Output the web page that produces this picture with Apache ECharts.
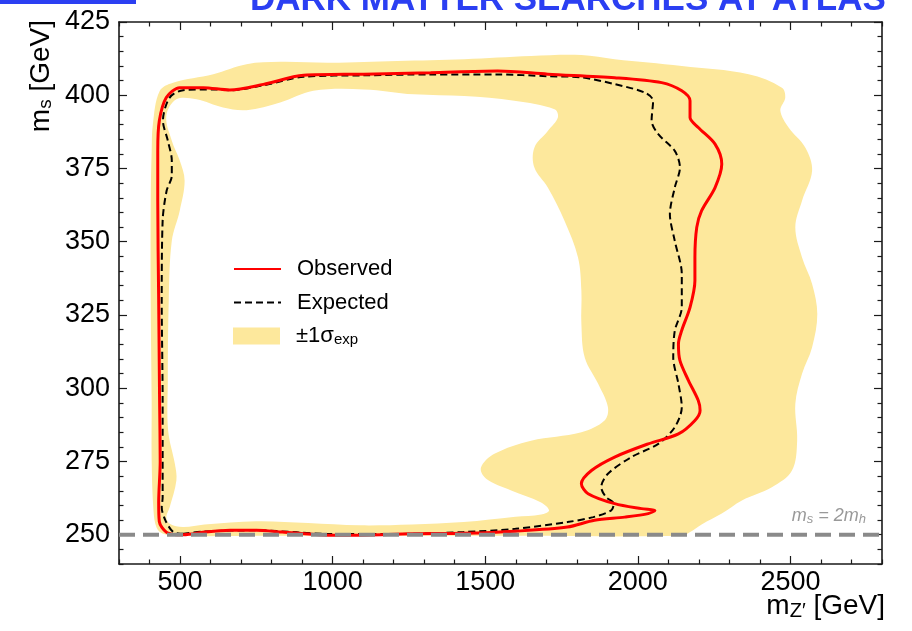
<!DOCTYPE html>
<html>
<head>
<meta charset="utf-8">
<script src="https://cdn.jsdelivr.net/npm/echarts@6/dist/echarts.min.js"></script>
<style>html,body{margin:0;padding:0;background:#fff}#chart{width:912px;height:631px}</style>
</head>
<body>
<div id="chart"></div>
<script>
// ---------------- data ----------------
const xMajorTicks = [500, 1000, 1500, 2000, 2500];
const yMajorTicks = [250, 275, 300, 325, 350, 375, 400, 425];

const observedMZ = [488,455,432,430,435,433,430,427,427,432,455,499,576,663,773,905,1102,1321,1541,1705,1924,2078,2144,2171,2171,2198,2253,2275,2253,2209,2193,2187,2187,2171,2144,2133,2138,2166,2198,2204,2187,2133,2034,1924,1848,1815,1837,1924,2012,2056,2034,1957,1858,1769,1599,1429,1259,1056,970,835,750,665,580,512,488];
const observedMS = [250.0,250.9,254.5,261,275,296,330,364,381,391.2,399.2,402.6,402.6,401.8,403.7,406.8,407.2,407.7,408.3,407.2,406.0,404.3,401.5,398.1,392.4,389.0,383.3,376.5,368.5,360.6,354.9,344.6,336.7,327.6,319.8,315.1,309.4,302.6,295.8,292.4,289.0,284.4,281.0,276.5,271.9,267.4,264.0,260.6,258.9,258.3,257.2,256.0,254.9,252.6,251.2,250.5,250.3,249.8,249.9,250.9,251.5,251.5,250.9,250.0,250.0];

const expectedMZ = [512,478,452,440,443,443,443,440,443,456,473,473,460,444,466,510,609,663,773,905,1102,1321,1541,1705,1815,1924,2023,2050,2045,2067,2121,2138,2121,2105,2121,2144,2144,2121,2116,2133,2144,2121,2067,1979,1902,1880,1896,1921,1913,1854,1769,1599,1429,1259,1055,970,885,750,580,512];
const expectedMS = [250.3,250.9,254.9,259.4,262.7,275.3,295.8,329.9,357.2,367.4,372.5,377.7,384.5,391.3,399.2,401.7,402.0,401.7,403.4,406.3,406.8,407.1,407.1,406.5,406.1,403.8,400.9,398.1,391.3,386.7,381.0,375.3,368.5,359.4,350.3,339.0,327.6,319.6,310.5,301.5,293.5,286.7,281.0,276.5,270.8,266.2,262.8,260.6,258.3,256.0,254.3,252.0,250.9,250.3,250.2,250.3,250.8,251.5,251.1,250.3];

// +-1 sigma band: outer edge and inner (hole) edge
const bandOuterMZ = [483,443,423,413,407,407,404,404,407,411,433,477,609,718,828,992,1212,1431,1650,1815,1924,2144,2363,2472,2483,2467,2494,2549,2571,2538,2516,2538,2571,2588,2571,2538,2516,2522,2505,2439,2341,2275,2209,2170,2144,1500,800];
const bandOuterMS = [249.6,250.4,252.5,258.3,275.3,295.8,329.9,364.0,381.0,390.1,401.4,404.3,407.2,410.6,411.4,411.1,411.7,412.3,413.4,413.7,412.3,410.0,407.2,402.6,399.2,394.7,389.0,382.1,374.2,364.0,354.9,344.6,335.6,325.3,314.0,304.9,294.7,282.1,271.9,266.2,261.7,257.2,253.5,250.8,249.6,249.6,249.6];
const bandInnerMZ = [510,466,455,466,488,483,461,460,463,473,499,515,499,473,455,488,554,641,718,828,937,1102,1266,1431,1595,1727,1738,1705,1661,1661,1705,1760,1804,1815,1815,1826,1870,1902,1891,1815,1650,1530,1486,1502,1585,1683,1709,1683,1599,1429,1259,1089,920,750,580];
const bandInnerMS = [252.6,253.7,256.0,259.4,268.5,274.2,285.6,302.6,329.9,350.3,360.6,370.8,377.7,384.5,392.9,398.6,398.6,395.8,394.9,397.5,401.5,402.0,400.3,399.7,398.1,395.2,392.4,387.8,382.1,375.3,368.5,357.1,344.6,333.3,321.9,310.5,301.5,293.5,289.0,285.0,282.1,277.6,272.9,269.2,265.1,261.0,258.3,256.9,256.1,254.3,253.5,253.2,254.0,254.6,253.5];

const thresholdMS = 250;   // m_s = 2 m_h
const xRange = [300, 2800];
const yRange = [240, 425];

// ---------------- helpers ----------------
const zip = (xs, ys) => xs.map((x, i) => [x, ys[i]]);
function rangeStep(a, b, s) { const r = []; for (let v = a; v <= b + 1e-9; v += s) r.push(v); return r; }
const xMinor = rangeStep(300, 2800, 100).filter(v => v % 500 !== 0);
const yMinor = rangeStep(240, 425, 5).filter(v => v % 25 !== 0);

const FONT = '"Liberation Sans", Arial, Helvetica, sans-serif';
const BAND = '#fde89c';
const FRAME = '#1a1a1a';

function makeX(position, major, showLine) {
  return {
    type: 'value', min: xRange[0], max: xRange[1], position,
    axisLine: { show: showLine, onZero: false, lineStyle: { color: FRAME, width: 1.6 } },
    axisTick: { show: true, inside: true, length: major ? 8 : 4.5, customValues: major ? xMajorTicks : xMinor, lineStyle: { color: FRAME, width: 1.2 } },
    axisLabel: (major && position === 'bottom') ? { show: true, customValues: xMajorTicks, formatter: v => String(v), color: '#000', fontFamily: FONT, fontSize: 27, margin: 5 } : { show: false },
    splitLine: { show: false }
  };
}
function makeY(position, major, showLine) {
  return {
    type: 'value', min: yRange[0], max: yRange[1], position,
    axisLine: { show: showLine, onZero: false, lineStyle: { color: FRAME, width: 1.6 } },
    axisTick: { show: true, inside: true, length: major ? 8 : 4.5, customValues: major ? yMajorTicks : yMinor, lineStyle: { color: FRAME, width: 1.2 } },
    axisLabel: (major && position === 'left') ? { show: true, customValues: yMajorTicks, formatter: v => String(v), color: '#000', fontFamily: FONT, fontSize: 27, margin: 9 } : { show: false },
    splitLine: { show: false }
  };
}

const legendText = {
  fontFamily: FONT, fontSize: 22, color: '#000', padding: [0, 0, 0, 11],
  rich: { sub: { fontFamily: FONT, fontSize: 15, color: '#000', padding: [8, 0, 0, 0] } }
};
function legendBox(top, item) {
  return {
    orient: 'vertical', left: 233, top, padding: 0,
    itemWidth: 47, itemHeight: 17, selectedMode: false,
    data: [item],
    formatter: n => n === 'band' ? '±1σ{sub|exp}' : n,
    textStyle: legendText
  };
}

const chart = echarts.init(document.getElementById('chart'), null, { renderer: 'canvas' });
chart.setOption({
  animation: false,
  backgroundColor: '#fff',
  grid: { left: 119, right: 30, top: 22, bottom: 67 },
  xAxis: [makeX('bottom', true, true), makeX('bottom', false, false), makeX('top', true, true), makeX('top', false, false)],
  yAxis: [makeY('left', true, true), makeY('left', false, false), makeY('right', true, true), makeY('right', false, false)],
  legend: [
    legendBox(258, { name: 'Observed', itemStyle: { opacity: 0 } }),
    legendBox(291.5, { name: 'Expected', itemStyle: { opacity: 0 } }),
    legendBox(325, { name: 'band', icon: 'rect' })
  ],
  series: [
    {
      type: 'custom', name: 'band', xAxisIndex: 0, yAxisIndex: 0, z: 1, clip: true, silent: true,
      itemStyle: { color: BAND },
      data: [[xRange[0], yRange[0]]], encode: { x: 0, y: 1 },
      renderItem: (params, api) => ({
        type: 'group',
        children: [
          { type: 'polygon', shape: { points: zip(bandOuterMZ, bandOuterMS).map(p => api.coord(p)), smooth: 0.35 }, style: { fill: BAND } },
          { type: 'polygon', shape: { points: zip(bandInnerMZ, bandInnerMS).map(p => api.coord(p)), smooth: 0.35 }, style: { fill: '#ffffff' } }
        ]
      })
    },
    {
      type: 'line', name: 'Expected', data: zip(expectedMZ, expectedMS), z: 3,
      symbol: 'none', showSymbol: false, smooth: 0.3, silent: true,
      itemStyle: { color: '#000' },
      lineStyle: { color: '#000', width: 2, type: [7, 4] }
    },
    {
      type: 'line', name: 'Observed', data: zip(observedMZ, observedMS), z: 4,
      symbol: 'none', showSymbol: false, smooth: 0.3, silent: true,
      itemStyle: { color: '#ff0000' },
      lineStyle: { color: '#ff0000', width: 3 }
    },
    {
      type: 'line', name: 'threshold', data: [[xRange[0], thresholdMS], [xRange[1], thresholdMS]], z: 5,
      symbol: 'none', showSymbol: false, silent: true,
      lineStyle: { color: '#8a8a8a', width: 4, type: [16, 8] }
    }
  ],
  graphic: [
    { type: 'rect', shape: { x: 0, y: 0, width: 136, height: 4 }, style: { fill: '#2b3ff2' } },
    { type: 'text', x: 250, y: 0, style: { text: 'DARK MATTER SEARCHES AT ATLAS', fontFamily: FONT, fontWeight: 'bold', fontSize: 35, fill: '#2b3ff2', align: 'left', verticalAlign: 'middle' } },
    { type: 'text', x: 235, y: 168, style: { text: 'ATLAS', fontFamily: FONT, fontWeight: 'bold', fontStyle: 'italic', fontSize: 27, fill: '#000', align: 'left', verticalAlign: 'middle' } },
    { type: 'text', x: 234, y: 199, style: { text: '√s =  13 TeV, 140 fb{sup|−1}', fontFamily: FONT, fontSize: 27, fill: '#000', align: 'left', verticalAlign: 'middle', rich: { sup: { fontFamily: FONT, fontSize: 15, padding: [0, 0, 9, 0] } } } },
    { type: 'line', shape: { x1: 247, y1: 187, x2: 263, y2: 187 }, style: { stroke: '#000', lineWidth: 1.5 } },
    { type: 'text', x: 234, y: 231, style: { text: 'Limits at 95% CL', fontFamily: FONT, fontSize: 27, fill: '#000', align: 'left', verticalAlign: 'middle' } },
    { type: 'text', x: 233, y: 374, style: { text: 'g{sub|q} = 0.25,  g{sub|χ} = 1,', fontFamily: FONT, fontSize: 18, fill: '#000', align: 'left', verticalAlign: 'middle', rich: { sub: { fontFamily: FONT, fontSize: 13, padding: [7, 0, 0, 0] } } } },
    { type: 'text', x: 233, y: 392, style: { text: 'sin{it|θ} = 0.01,  m{sub|χ} = 200 GeV', fontFamily: FONT, fontSize: 18, fill: '#000', align: 'left', verticalAlign: 'middle', rich: { sub: { fontFamily: FONT, fontSize: 13, padding: [7, 0, 0, 0] }, it: { fontFamily: FONT, fontSize: 18, fontStyle: 'italic' } } } },
    { type: 'text', x: 866, y: 516, style: { text: 'm{sub|s} = 2m{sub|h}', fontFamily: FONT, fontSize: 18, fontStyle: 'italic', fill: '#999', align: 'right', verticalAlign: 'middle', rich: { sub: { fontFamily: FONT, fontSize: 13, fontStyle: 'italic', fill: '#999', padding: [7, 0, 0, 0] } } } },
    { type: 'text', x: 885, y: 606, style: { text: 'm{sub|Z′} [GeV]', fontFamily: FONT, fontSize: 28, fill: '#000', align: 'right', verticalAlign: 'middle', rich: { sub: { fontFamily: FONT, fontSize: 20, padding: [10, 0, 0, 0] } } } },
    { type: 'text', x: 41, y: 20, rotation: Math.PI / 2, style: { text: 'm{sub|s} [GeV]', fontFamily: FONT, fontSize: 28, fill: '#000', align: 'right', verticalAlign: 'middle', rich: { sub: { fontFamily: FONT, fontSize: 19, padding: [10, 0, 0, 0] } } } }
  ]
});
</script>
</body>
</html>
